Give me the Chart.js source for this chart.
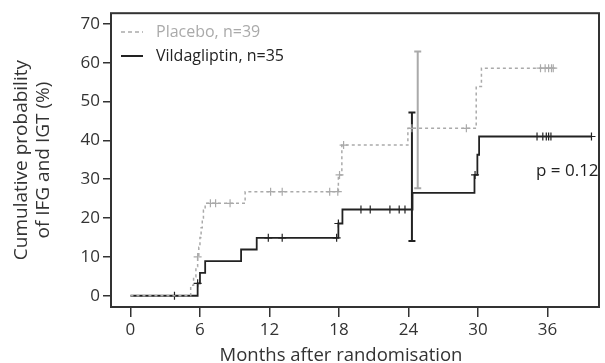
<!DOCTYPE html>
<html>
<head>
<meta charset="utf-8">
<script src="https://cdn.jsdelivr.net/npm/chart.js@4/dist/chart.umd.min.js"></script>
<style>
  body { margin: 0; background: #fff; }
  #wrap { width: 605px; height: 363px; }
</style>
</head>
<body>
<div id="wrap"><canvas id="km-chart" width="605" height="363"></canvas></div>
<script>
// months / cumulative %
const placeboTimes  = [0, 5.2, 5.45, 5.65, 5.8, 5.9, 6.0, 6.1, 6.2, 6.3, 6.45, 9.9, 17.95, 18.25, 23.95, 29.85, 30.3, 36.7];
const placeboValues = [0, 2.7, 4.9, 7.5, 10, 12.5, 15, 17.5, 20, 22, 23.8, 26.8, 31.1, 38.8, 43.1, 53.9, 58.6, 58.6];
const placeboCensor = [5.8, 6.9, 7.35, 8.6, 12.1, 13.1, 17.2, 17.9, 18.05, 18.4, 24.3, 29.0, 35.4, 35.8, 36.1, 36.35, 36.5];

const vildaTimes  = [0, 5.8, 6.0, 6.45, 9.55, 10.9, 17.95, 18.3, 24.35, 29.7, 29.95, 30.1, 39.8];
const vildaValues = [0, 3.2, 5.9, 8.9, 11.9, 14.9, 18.6, 22.2, 26.5, 31.1, 36.3, 41.0, 41.0];
const vildaCensor = [3.8, 5.8, 11.9, 13.1, 17.8, 17.95, 19.9, 20.7, 22.4, 23.2, 23.7, 29.75, 35.1, 35.6, 35.9, 36.1, 36.3, 39.8];

// 95% CI bars near 24 months
const placeboCI = { x: 24.8, low: 27.7, high: 62.9 };
const vildaCI   = { x: 24.3, low: 14.1, high: 47.2 };

const xTicks = [0, 6, 12, 18, 24, 30, 36];
const yTicks = [0, 10, 20, 30, 40, 50, 60, 70];

const grey = '#aaaaaa';
const dark = '#222222';
const axisCol = '#333333';
const fontFam = '"Open Sans", Lato, sans-serif';

function steps(times, values) {
  return times.map((t, i) => ({ x: t, y: values[i] }));
}
function valueAt(times, values, t) {
  let v = values[0];
  for (let i = 0; i < times.length; i++) {
    if (times[i] <= t) v = values[i];
  }
  return v;
}
function marks(censor, times, values) {
  return censor.map(t => ({ x: t, y: valueAt(times, values, t) }));
}
function ciBar(ci) {
  return [{ x: ci.x, y: ci.low }, { x: ci.x, y: ci.high }];
}

// plot frame, axis titles, legend and p value
const extras = {
  id: 'extras',
  afterDraw(chart) {
    const c = chart.ctx;
    const a = chart.chartArea;
    c.save();
    c.strokeStyle = axisCol;
    c.lineWidth = 2;
    c.strokeRect(a.left, a.top, a.right - a.left, a.bottom - a.top);

    // axis titles
    c.fillStyle = axisCol;
    c.font = '18.5px ' + fontFam;
    c.textAlign = 'center';
    c.textBaseline = 'alphabetic';
    c.fillText('Months after randomisation', 341, 361);
    c.save();
    c.translate(0, (a.top + a.bottom) / 2);
    c.rotate(-Math.PI / 2);
    c.font = '19px ' + fontFam;
    c.fillText('Cumulative probability', 0, 27);
    c.fillText('of IFG and IGT (%)', 0, 49);
    c.restore();

    // legend
    c.textAlign = 'left';
    c.textBaseline = 'middle';
    c.font = '16px ' + fontFam;
    c.lineWidth = 1.5;
    c.strokeStyle = grey;
    c.setLineDash([4, 3]);
    c.beginPath(); c.moveTo(a.left + 10, 32); c.lineTo(a.left + 32, 32); c.stroke();
    c.setLineDash([]);
    c.strokeStyle = dark;
    c.lineWidth = 2;
    c.beginPath(); c.moveTo(a.left + 10, 56); c.lineTo(a.left + 32, 56); c.stroke();
    c.fillStyle = grey;
    c.fillText('Placebo, n=39', a.left + 45, 32);
    c.fillStyle = dark;
    c.fillText('Vildagliptin, n=35', a.left + 45, 56);

    c.font = '17px ' + fontFam;
    c.fillStyle = dark;
    c.fillText('p = 0.12', 536, 171);
    c.restore();
  }
};

const ctx = document.getElementById('km-chart');
const myChart = new Chart(ctx, {
  type: 'line',
  plugins: [extras],
  data: {
    datasets: [
      {
        label: 'Placebo, n=39',
        data: steps(placeboTimes, placeboValues),
        stepped: 'before',
        borderColor: grey,
        borderWidth: 1.5,
        borderDash: [3, 3],
        pointRadius: 0,
      },
      {
        label: 'Vildagliptin, n=35',
        data: steps(vildaTimes, vildaValues),
        stepped: 'before',
        borderColor: dark,
        borderWidth: 1.8,
        pointRadius: 0,
      },
      {
        data: marks(placeboCensor, placeboTimes, placeboValues),
        showLine: false,
        pointStyle: 'cross',
        pointRadius: 4,
        borderColor: grey,
        borderWidth: 1.2,
      },
      {
        data: marks(vildaCensor, vildaTimes, vildaValues),
        showLine: false,
        pointStyle: 'cross',
        pointRadius: 4,
        borderColor: dark,
        borderWidth: 1.2,
      },
      {
        data: ciBar(placeboCI),
        borderColor: grey,
        borderWidth: 2,
        pointStyle: 'line',
        pointRadius: 3.5,
      },
      {
        data: ciBar(vildaCI),
        borderColor: dark,
        borderWidth: 2,
        pointStyle: 'line',
        pointRadius: 3.5,
      },
    ],
  },
  options: {
    responsive: false,
    animation: false,
    layout: { padding: { top: 13, right: 1, left: 0, bottom: 0 } },
    plugins: {
      legend: { display: false },
      tooltip: { enabled: false },
    },
    scales: {
      x: {
        type: 'linear',
        min: -1.68,
        max: 40.45,
        afterBuildTicks: s => { s.ticks = xTicks.map(v => ({ value: v })); },
        afterFit: s => { s.height = 56; },
        border: { display: false },
        grid: {
          drawOnChartArea: false,
          drawTicks: true,
          tickLength: 10,
          color: axisCol,
          lineWidth: 1.5,
        },
        ticks: {
          color: axisCol,
          padding: 3,
          maxRotation: 0,
          font: { family: fontFam, size: 17 },
        },
      },
      y: {
        min: -2.9,
        max: 72.75,
        afterBuildTicks: s => { s.ticks = yTicks.map(v => ({ value: v })); },
        afterFit: s => { s.width = 111; },
        border: { display: false },
        grid: {
          drawOnChartArea: false,
          drawTicks: true,
          tickLength: 8,
          color: axisCol,
          lineWidth: 1.5,
        },
        ticks: {
          color: axisCol,
          padding: 3,
          font: { family: fontFam, size: 17 },
        },
      },
    },
  },
});
</script>
</body>
</html>
